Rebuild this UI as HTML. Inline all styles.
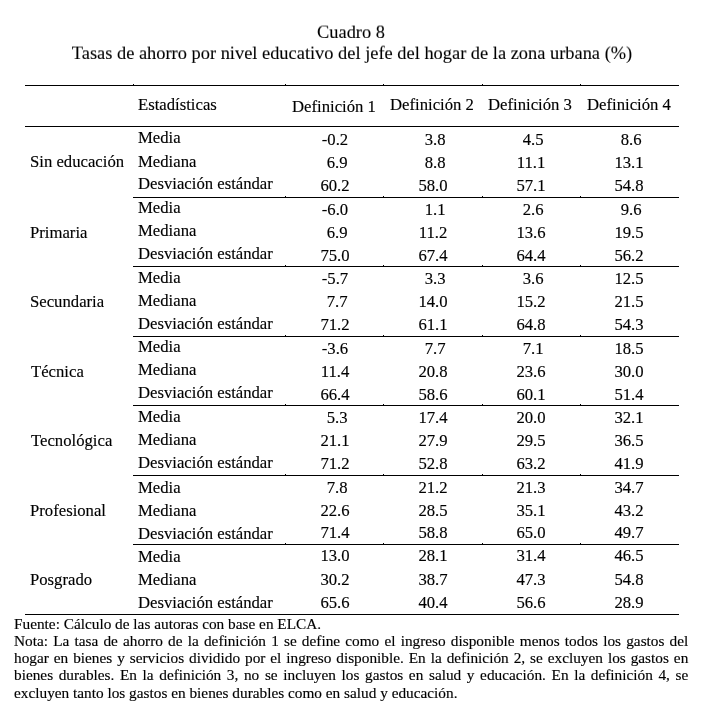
<!DOCTYPE html>
<html><head><meta charset="utf-8"><style>
html,body{margin:0;padding:0;background:#fff;}
body{width:710px;height:716px;position:relative;overflow:hidden;}
.t{position:absolute;will-change:transform;font-family:"Liberation Serif","Times New Roman",serif;color:#000;white-space:nowrap;}
.r{position:absolute;height:1px;background:#000;}
</style></head><body>
<div class="t" style="left:251.20px;width:200px;text-align:center;top:23px;font-size:18.4px;line-height:18.4px;transform:scaleY(0.96);transform-origin:0 15.41px;-webkit-text-stroke:0.1px #000;">Cuadro 8</div>
<div class="t" style="left:1.70px;width:700px;text-align:center;top:44px;font-size:18.4px;line-height:18.4px;transform:scaleY(0.96);transform-origin:0 15.41px;-webkit-text-stroke:0.1px #000;">Tasas de ahorro por nivel educativo del jefe del hogar de la zona urbana (%)</div>
<div class="r" style="left:25px;width:654px;top:85px"></div>
<div class="r" style="left:25px;width:654px;top:126px"></div>
<div class="r" style="left:133px;width:546px;top:197px"></div>
<div class="r" style="left:133px;width:546px;top:266px"></div>
<div class="r" style="left:133px;width:546px;top:336px"></div>
<div class="r" style="left:133px;width:546px;top:405px"></div>
<div class="r" style="left:133px;width:546px;top:475px"></div>
<div class="r" style="left:133px;width:546px;top:544px"></div>
<div class="r" style="left:25px;width:654px;top:614px"></div>
<div class="r" style="left:133px;width:1px;top:84px"></div>
<div class="r" style="left:285px;width:1px;top:84px"></div>
<div class="r" style="left:383px;width:1px;top:84px"></div>
<div class="r" style="left:482px;width:1px;top:84px"></div>
<div class="r" style="left:580px;width:1px;top:84px"></div>
<div class="r" style="left:285px;width:1px;top:196px"></div>
<div class="r" style="left:383px;width:1px;top:196px"></div>
<div class="r" style="left:482px;width:1px;top:196px"></div>
<div class="r" style="left:580px;width:1px;top:196px"></div>
<div class="r" style="left:285px;width:1px;top:265px"></div>
<div class="r" style="left:383px;width:1px;top:265px"></div>
<div class="r" style="left:482px;width:1px;top:265px"></div>
<div class="r" style="left:580px;width:1px;top:265px"></div>
<div class="r" style="left:285px;width:1px;top:335px"></div>
<div class="r" style="left:383px;width:1px;top:335px"></div>
<div class="r" style="left:482px;width:1px;top:335px"></div>
<div class="r" style="left:580px;width:1px;top:335px"></div>
<div class="r" style="left:285px;width:1px;top:404px"></div>
<div class="r" style="left:383px;width:1px;top:404px"></div>
<div class="r" style="left:482px;width:1px;top:404px"></div>
<div class="r" style="left:580px;width:1px;top:404px"></div>
<div class="r" style="left:285px;width:1px;top:474px"></div>
<div class="r" style="left:383px;width:1px;top:474px"></div>
<div class="r" style="left:482px;width:1px;top:474px"></div>
<div class="r" style="left:580px;width:1px;top:474px"></div>
<div class="r" style="left:285px;width:1px;top:543px"></div>
<div class="r" style="left:383px;width:1px;top:543px"></div>
<div class="r" style="left:482px;width:1px;top:543px"></div>
<div class="r" style="left:580px;width:1px;top:543px"></div>
<div class="t" style="left:138.20px;top:97px;font-size:16.7px;line-height:16.7px;-webkit-text-stroke:0.15px #000;">Estadísticas</div>
<div class="t" style="left:284.90px;width:98px;text-align:center;top:99px;font-size:16.7px;line-height:16.7px;-webkit-text-stroke:0.15px #000;">Definición 1</div>
<div class="t" style="left:383.10px;width:98px;text-align:center;top:97px;font-size:16.7px;line-height:16.7px;-webkit-text-stroke:0.15px #000;">Definición 2</div>
<div class="t" style="left:481.30px;width:98px;text-align:center;top:97px;font-size:16.7px;line-height:16.7px;-webkit-text-stroke:0.15px #000;">Definición 3</div>
<div class="t" style="left:579.60px;width:98px;text-align:center;top:97px;font-size:16.7px;line-height:16.7px;-webkit-text-stroke:0.15px #000;">Definición 4</div>
<div class="t" style="left:30.30px;top:154px;font-size:16.7px;line-height:16.7px;-webkit-text-stroke:0.15px #000;">Sin educación</div>
<div class="t" style="left:138.20px;top:130px;font-size:16.7px;line-height:16.7px;-webkit-text-stroke:0.15px #000;">Media</div>
<div class="t" style="left:285.50px;width:98px;text-align:center;top:132px;font-size:16.7px;line-height:16.7px;white-space:pre;-webkit-text-stroke:0.15px #000;">-0.2</div>
<div class="t" style="left:383.70px;width:98px;text-align:center;top:132px;font-size:16.7px;line-height:16.7px;white-space:pre;-webkit-text-stroke:0.15px #000;"> 3.8</div>
<div class="t" style="left:481.90px;width:98px;text-align:center;top:132px;font-size:16.7px;line-height:16.7px;white-space:pre;-webkit-text-stroke:0.15px #000;"> 4.5</div>
<div class="t" style="left:580.20px;width:98px;text-align:center;top:132px;font-size:16.7px;line-height:16.7px;white-space:pre;-webkit-text-stroke:0.15px #000;"> 8.6</div>
<div class="t" style="left:138.20px;top:154px;font-size:16.7px;line-height:16.7px;-webkit-text-stroke:0.15px #000;">Mediana</div>
<div class="t" style="left:285.50px;width:98px;text-align:center;top:155px;font-size:16.7px;line-height:16.7px;white-space:pre;-webkit-text-stroke:0.15px #000;"> 6.9</div>
<div class="t" style="left:383.70px;width:98px;text-align:center;top:155px;font-size:16.7px;line-height:16.7px;white-space:pre;-webkit-text-stroke:0.15px #000;"> 8.8</div>
<div class="t" style="left:481.90px;width:98px;text-align:center;top:155px;font-size:16.7px;line-height:16.7px;white-space:pre;-webkit-text-stroke:0.15px #000;">11.1</div>
<div class="t" style="left:580.20px;width:98px;text-align:center;top:155px;font-size:16.7px;line-height:16.7px;white-space:pre;-webkit-text-stroke:0.15px #000;">13.1</div>
<div class="t" style="left:138.20px;top:176px;font-size:16.7px;line-height:16.7px;-webkit-text-stroke:0.15px #000;">Desviación estándar</div>
<div class="t" style="left:285.50px;width:98px;text-align:center;top:178px;font-size:16.7px;line-height:16.7px;white-space:pre;-webkit-text-stroke:0.15px #000;">60.2</div>
<div class="t" style="left:383.70px;width:98px;text-align:center;top:178px;font-size:16.7px;line-height:16.7px;white-space:pre;-webkit-text-stroke:0.15px #000;">58.0</div>
<div class="t" style="left:481.90px;width:98px;text-align:center;top:178px;font-size:16.7px;line-height:16.7px;white-space:pre;-webkit-text-stroke:0.15px #000;">57.1</div>
<div class="t" style="left:580.20px;width:98px;text-align:center;top:178px;font-size:16.7px;line-height:16.7px;white-space:pre;-webkit-text-stroke:0.15px #000;">54.8</div>
<div class="t" style="left:30.30px;top:225px;font-size:16.7px;line-height:16.7px;-webkit-text-stroke:0.15px #000;">Primaria</div>
<div class="t" style="left:138.20px;top:200px;font-size:16.7px;line-height:16.7px;-webkit-text-stroke:0.15px #000;">Media</div>
<div class="t" style="left:285.50px;width:98px;text-align:center;top:202px;font-size:16.7px;line-height:16.7px;white-space:pre;-webkit-text-stroke:0.15px #000;">-6.0</div>
<div class="t" style="left:383.70px;width:98px;text-align:center;top:202px;font-size:16.7px;line-height:16.7px;white-space:pre;-webkit-text-stroke:0.15px #000;"> 1.1</div>
<div class="t" style="left:481.90px;width:98px;text-align:center;top:202px;font-size:16.7px;line-height:16.7px;white-space:pre;-webkit-text-stroke:0.15px #000;"> 2.6</div>
<div class="t" style="left:580.20px;width:98px;text-align:center;top:202px;font-size:16.7px;line-height:16.7px;white-space:pre;-webkit-text-stroke:0.15px #000;"> 9.6</div>
<div class="t" style="left:138.20px;top:223px;font-size:16.7px;line-height:16.7px;-webkit-text-stroke:0.15px #000;">Mediana</div>
<div class="t" style="left:285.50px;width:98px;text-align:center;top:225px;font-size:16.7px;line-height:16.7px;white-space:pre;-webkit-text-stroke:0.15px #000;"> 6.9</div>
<div class="t" style="left:383.70px;width:98px;text-align:center;top:225px;font-size:16.7px;line-height:16.7px;white-space:pre;-webkit-text-stroke:0.15px #000;">11.2</div>
<div class="t" style="left:481.90px;width:98px;text-align:center;top:225px;font-size:16.7px;line-height:16.7px;white-space:pre;-webkit-text-stroke:0.15px #000;">13.6</div>
<div class="t" style="left:580.20px;width:98px;text-align:center;top:225px;font-size:16.7px;line-height:16.7px;white-space:pre;-webkit-text-stroke:0.15px #000;">19.5</div>
<div class="t" style="left:138.20px;top:246px;font-size:16.7px;line-height:16.7px;-webkit-text-stroke:0.15px #000;">Desviación estándar</div>
<div class="t" style="left:285.50px;width:98px;text-align:center;top:248px;font-size:16.7px;line-height:16.7px;white-space:pre;-webkit-text-stroke:0.15px #000;">75.0</div>
<div class="t" style="left:383.70px;width:98px;text-align:center;top:248px;font-size:16.7px;line-height:16.7px;white-space:pre;-webkit-text-stroke:0.15px #000;">67.4</div>
<div class="t" style="left:481.90px;width:98px;text-align:center;top:248px;font-size:16.7px;line-height:16.7px;white-space:pre;-webkit-text-stroke:0.15px #000;">64.4</div>
<div class="t" style="left:580.20px;width:98px;text-align:center;top:248px;font-size:16.7px;line-height:16.7px;white-space:pre;-webkit-text-stroke:0.15px #000;">56.2</div>
<div class="t" style="left:30.30px;top:294px;font-size:16.7px;line-height:16.7px;-webkit-text-stroke:0.15px #000;">Secundaria</div>
<div class="t" style="left:138.20px;top:270px;font-size:16.7px;line-height:16.7px;-webkit-text-stroke:0.15px #000;">Media</div>
<div class="t" style="left:285.50px;width:98px;text-align:center;top:271px;font-size:16.7px;line-height:16.7px;white-space:pre;-webkit-text-stroke:0.15px #000;">-5.7</div>
<div class="t" style="left:383.70px;width:98px;text-align:center;top:271px;font-size:16.7px;line-height:16.7px;white-space:pre;-webkit-text-stroke:0.15px #000;"> 3.3</div>
<div class="t" style="left:481.90px;width:98px;text-align:center;top:271px;font-size:16.7px;line-height:16.7px;white-space:pre;-webkit-text-stroke:0.15px #000;"> 3.6</div>
<div class="t" style="left:580.20px;width:98px;text-align:center;top:271px;font-size:16.7px;line-height:16.7px;white-space:pre;-webkit-text-stroke:0.15px #000;">12.5</div>
<div class="t" style="left:138.20px;top:293px;font-size:16.7px;line-height:16.7px;-webkit-text-stroke:0.15px #000;">Mediana</div>
<div class="t" style="left:285.50px;width:98px;text-align:center;top:294px;font-size:16.7px;line-height:16.7px;white-space:pre;-webkit-text-stroke:0.15px #000;"> 7.7</div>
<div class="t" style="left:383.70px;width:98px;text-align:center;top:294px;font-size:16.7px;line-height:16.7px;white-space:pre;-webkit-text-stroke:0.15px #000;">14.0</div>
<div class="t" style="left:481.90px;width:98px;text-align:center;top:294px;font-size:16.7px;line-height:16.7px;white-space:pre;-webkit-text-stroke:0.15px #000;">15.2</div>
<div class="t" style="left:580.20px;width:98px;text-align:center;top:294px;font-size:16.7px;line-height:16.7px;white-space:pre;-webkit-text-stroke:0.15px #000;">21.5</div>
<div class="t" style="left:138.20px;top:316px;font-size:16.7px;line-height:16.7px;-webkit-text-stroke:0.15px #000;">Desviación estándar</div>
<div class="t" style="left:285.50px;width:98px;text-align:center;top:317px;font-size:16.7px;line-height:16.7px;white-space:pre;-webkit-text-stroke:0.15px #000;">71.2</div>
<div class="t" style="left:383.70px;width:98px;text-align:center;top:317px;font-size:16.7px;line-height:16.7px;white-space:pre;-webkit-text-stroke:0.15px #000;">61.1</div>
<div class="t" style="left:481.90px;width:98px;text-align:center;top:317px;font-size:16.7px;line-height:16.7px;white-space:pre;-webkit-text-stroke:0.15px #000;">64.8</div>
<div class="t" style="left:580.20px;width:98px;text-align:center;top:317px;font-size:16.7px;line-height:16.7px;white-space:pre;-webkit-text-stroke:0.15px #000;">54.3</div>
<div class="t" style="left:31.00px;top:364px;font-size:16.7px;line-height:16.7px;-webkit-text-stroke:0.15px #000;">Técnica</div>
<div class="t" style="left:138.20px;top:339px;font-size:16.7px;line-height:16.7px;-webkit-text-stroke:0.15px #000;">Media</div>
<div class="t" style="left:285.50px;width:98px;text-align:center;top:341px;font-size:16.7px;line-height:16.7px;white-space:pre;-webkit-text-stroke:0.15px #000;">-3.6</div>
<div class="t" style="left:383.70px;width:98px;text-align:center;top:341px;font-size:16.7px;line-height:16.7px;white-space:pre;-webkit-text-stroke:0.15px #000;"> 7.7</div>
<div class="t" style="left:481.90px;width:98px;text-align:center;top:341px;font-size:16.7px;line-height:16.7px;white-space:pre;-webkit-text-stroke:0.15px #000;"> 7.1</div>
<div class="t" style="left:580.20px;width:98px;text-align:center;top:341px;font-size:16.7px;line-height:16.7px;white-space:pre;-webkit-text-stroke:0.15px #000;">18.5</div>
<div class="t" style="left:138.20px;top:362px;font-size:16.7px;line-height:16.7px;-webkit-text-stroke:0.15px #000;">Mediana</div>
<div class="t" style="left:285.50px;width:98px;text-align:center;top:364px;font-size:16.7px;line-height:16.7px;white-space:pre;-webkit-text-stroke:0.15px #000;">11.4</div>
<div class="t" style="left:383.70px;width:98px;text-align:center;top:364px;font-size:16.7px;line-height:16.7px;white-space:pre;-webkit-text-stroke:0.15px #000;">20.8</div>
<div class="t" style="left:481.90px;width:98px;text-align:center;top:364px;font-size:16.7px;line-height:16.7px;white-space:pre;-webkit-text-stroke:0.15px #000;">23.6</div>
<div class="t" style="left:580.20px;width:98px;text-align:center;top:364px;font-size:16.7px;line-height:16.7px;white-space:pre;-webkit-text-stroke:0.15px #000;">30.0</div>
<div class="t" style="left:138.20px;top:385px;font-size:16.7px;line-height:16.7px;-webkit-text-stroke:0.15px #000;">Desviación estándar</div>
<div class="t" style="left:285.50px;width:98px;text-align:center;top:387px;font-size:16.7px;line-height:16.7px;white-space:pre;-webkit-text-stroke:0.15px #000;">66.4</div>
<div class="t" style="left:383.70px;width:98px;text-align:center;top:387px;font-size:16.7px;line-height:16.7px;white-space:pre;-webkit-text-stroke:0.15px #000;">58.6</div>
<div class="t" style="left:481.90px;width:98px;text-align:center;top:387px;font-size:16.7px;line-height:16.7px;white-space:pre;-webkit-text-stroke:0.15px #000;">60.1</div>
<div class="t" style="left:580.20px;width:98px;text-align:center;top:387px;font-size:16.7px;line-height:16.7px;white-space:pre;-webkit-text-stroke:0.15px #000;">51.4</div>
<div class="t" style="left:31.00px;top:433px;font-size:16.7px;line-height:16.7px;-webkit-text-stroke:0.15px #000;">Tecnológica</div>
<div class="t" style="left:138.20px;top:409px;font-size:16.7px;line-height:16.7px;-webkit-text-stroke:0.15px #000;">Media</div>
<div class="t" style="left:285.50px;width:98px;text-align:center;top:410px;font-size:16.7px;line-height:16.7px;white-space:pre;-webkit-text-stroke:0.15px #000;"> 5.3</div>
<div class="t" style="left:383.70px;width:98px;text-align:center;top:410px;font-size:16.7px;line-height:16.7px;white-space:pre;-webkit-text-stroke:0.15px #000;">17.4</div>
<div class="t" style="left:481.90px;width:98px;text-align:center;top:410px;font-size:16.7px;line-height:16.7px;white-space:pre;-webkit-text-stroke:0.15px #000;">20.0</div>
<div class="t" style="left:580.20px;width:98px;text-align:center;top:410px;font-size:16.7px;line-height:16.7px;white-space:pre;-webkit-text-stroke:0.15px #000;">32.1</div>
<div class="t" style="left:138.20px;top:432px;font-size:16.7px;line-height:16.7px;-webkit-text-stroke:0.15px #000;">Mediana</div>
<div class="t" style="left:285.50px;width:98px;text-align:center;top:433px;font-size:16.7px;line-height:16.7px;white-space:pre;-webkit-text-stroke:0.15px #000;">21.1</div>
<div class="t" style="left:383.70px;width:98px;text-align:center;top:433px;font-size:16.7px;line-height:16.7px;white-space:pre;-webkit-text-stroke:0.15px #000;">27.9</div>
<div class="t" style="left:481.90px;width:98px;text-align:center;top:433px;font-size:16.7px;line-height:16.7px;white-space:pre;-webkit-text-stroke:0.15px #000;">29.5</div>
<div class="t" style="left:580.20px;width:98px;text-align:center;top:433px;font-size:16.7px;line-height:16.7px;white-space:pre;-webkit-text-stroke:0.15px #000;">36.5</div>
<div class="t" style="left:138.20px;top:455px;font-size:16.7px;line-height:16.7px;-webkit-text-stroke:0.15px #000;">Desviación estándar</div>
<div class="t" style="left:285.50px;width:98px;text-align:center;top:456px;font-size:16.7px;line-height:16.7px;white-space:pre;-webkit-text-stroke:0.15px #000;">71.2</div>
<div class="t" style="left:383.70px;width:98px;text-align:center;top:456px;font-size:16.7px;line-height:16.7px;white-space:pre;-webkit-text-stroke:0.15px #000;">52.8</div>
<div class="t" style="left:481.90px;width:98px;text-align:center;top:456px;font-size:16.7px;line-height:16.7px;white-space:pre;-webkit-text-stroke:0.15px #000;">63.2</div>
<div class="t" style="left:580.20px;width:98px;text-align:center;top:456px;font-size:16.7px;line-height:16.7px;white-space:pre;-webkit-text-stroke:0.15px #000;">41.9</div>
<div class="t" style="left:30.30px;top:503px;font-size:16.7px;line-height:16.7px;-webkit-text-stroke:0.15px #000;">Profesional</div>
<div class="t" style="left:138.20px;top:480px;font-size:16.7px;line-height:16.7px;-webkit-text-stroke:0.15px #000;">Media</div>
<div class="t" style="left:285.50px;width:98px;text-align:center;top:480px;font-size:16.7px;line-height:16.7px;white-space:pre;-webkit-text-stroke:0.15px #000;"> 7.8</div>
<div class="t" style="left:383.70px;width:98px;text-align:center;top:480px;font-size:16.7px;line-height:16.7px;white-space:pre;-webkit-text-stroke:0.15px #000;">21.2</div>
<div class="t" style="left:481.90px;width:98px;text-align:center;top:480px;font-size:16.7px;line-height:16.7px;white-space:pre;-webkit-text-stroke:0.15px #000;">21.3</div>
<div class="t" style="left:580.20px;width:98px;text-align:center;top:480px;font-size:16.7px;line-height:16.7px;white-space:pre;-webkit-text-stroke:0.15px #000;">34.7</div>
<div class="t" style="left:138.20px;top:503px;font-size:16.7px;line-height:16.7px;-webkit-text-stroke:0.15px #000;">Mediana</div>
<div class="t" style="left:285.50px;width:98px;text-align:center;top:503px;font-size:16.7px;line-height:16.7px;white-space:pre;-webkit-text-stroke:0.15px #000;">22.6</div>
<div class="t" style="left:383.70px;width:98px;text-align:center;top:503px;font-size:16.7px;line-height:16.7px;white-space:pre;-webkit-text-stroke:0.15px #000;">28.5</div>
<div class="t" style="left:481.90px;width:98px;text-align:center;top:503px;font-size:16.7px;line-height:16.7px;white-space:pre;-webkit-text-stroke:0.15px #000;">35.1</div>
<div class="t" style="left:580.20px;width:98px;text-align:center;top:503px;font-size:16.7px;line-height:16.7px;white-space:pre;-webkit-text-stroke:0.15px #000;">43.2</div>
<div class="t" style="left:138.20px;top:526px;font-size:16.7px;line-height:16.7px;-webkit-text-stroke:0.15px #000;">Desviación estándar</div>
<div class="t" style="left:285.50px;width:98px;text-align:center;top:525px;font-size:16.7px;line-height:16.7px;white-space:pre;-webkit-text-stroke:0.15px #000;">71.4</div>
<div class="t" style="left:383.70px;width:98px;text-align:center;top:525px;font-size:16.7px;line-height:16.7px;white-space:pre;-webkit-text-stroke:0.15px #000;">58.8</div>
<div class="t" style="left:481.90px;width:98px;text-align:center;top:525px;font-size:16.7px;line-height:16.7px;white-space:pre;-webkit-text-stroke:0.15px #000;">65.0</div>
<div class="t" style="left:580.20px;width:98px;text-align:center;top:525px;font-size:16.7px;line-height:16.7px;white-space:pre;-webkit-text-stroke:0.15px #000;">49.7</div>
<div class="t" style="left:30.30px;top:572px;font-size:16.7px;line-height:16.7px;-webkit-text-stroke:0.15px #000;">Posgrado</div>
<div class="t" style="left:138.20px;top:549px;font-size:16.7px;line-height:16.7px;-webkit-text-stroke:0.15px #000;">Media</div>
<div class="t" style="left:285.50px;width:98px;text-align:center;top:548px;font-size:16.7px;line-height:16.7px;white-space:pre;-webkit-text-stroke:0.15px #000;">13.0</div>
<div class="t" style="left:383.70px;width:98px;text-align:center;top:548px;font-size:16.7px;line-height:16.7px;white-space:pre;-webkit-text-stroke:0.15px #000;">28.1</div>
<div class="t" style="left:481.90px;width:98px;text-align:center;top:548px;font-size:16.7px;line-height:16.7px;white-space:pre;-webkit-text-stroke:0.15px #000;">31.4</div>
<div class="t" style="left:580.20px;width:98px;text-align:center;top:548px;font-size:16.7px;line-height:16.7px;white-space:pre;-webkit-text-stroke:0.15px #000;">46.5</div>
<div class="t" style="left:138.20px;top:572px;font-size:16.7px;line-height:16.7px;-webkit-text-stroke:0.15px #000;">Mediana</div>
<div class="t" style="left:285.50px;width:98px;text-align:center;top:572px;font-size:16.7px;line-height:16.7px;white-space:pre;-webkit-text-stroke:0.15px #000;">30.2</div>
<div class="t" style="left:383.70px;width:98px;text-align:center;top:572px;font-size:16.7px;line-height:16.7px;white-space:pre;-webkit-text-stroke:0.15px #000;">38.7</div>
<div class="t" style="left:481.90px;width:98px;text-align:center;top:572px;font-size:16.7px;line-height:16.7px;white-space:pre;-webkit-text-stroke:0.15px #000;">47.3</div>
<div class="t" style="left:580.20px;width:98px;text-align:center;top:572px;font-size:16.7px;line-height:16.7px;white-space:pre;-webkit-text-stroke:0.15px #000;">54.8</div>
<div class="t" style="left:138.20px;top:595px;font-size:16.7px;line-height:16.7px;-webkit-text-stroke:0.15px #000;">Desviación estándar</div>
<div class="t" style="left:285.50px;width:98px;text-align:center;top:595px;font-size:16.7px;line-height:16.7px;white-space:pre;-webkit-text-stroke:0.15px #000;">65.6</div>
<div class="t" style="left:383.70px;width:98px;text-align:center;top:595px;font-size:16.7px;line-height:16.7px;white-space:pre;-webkit-text-stroke:0.15px #000;">40.4</div>
<div class="t" style="left:481.90px;width:98px;text-align:center;top:595px;font-size:16.7px;line-height:16.7px;white-space:pre;-webkit-text-stroke:0.15px #000;">56.6</div>
<div class="t" style="left:580.20px;width:98px;text-align:center;top:595px;font-size:16.7px;line-height:16.7px;white-space:pre;-webkit-text-stroke:0.15px #000;">28.9</div>
<div class="t" style="left:14.00px;top:616px;font-size:15.3px;line-height:15.3px;-webkit-text-stroke:0.15px #000;">Fuente: Cálculo de las autoras con base en ELCA.</div>
<div class="t" style="left:14.00px;top:633px;font-size:15.3px;line-height:15.3px;width:674.3px;text-align:justify;text-align-last:justify;white-space:normal;-webkit-text-stroke:0.15px #000;">Nota: La tasa de ahorro de la definición 1 se define como el ingreso disponible menos todos los gastos del</div>
<div class="t" style="left:14.00px;top:650px;font-size:15.3px;line-height:15.3px;width:674.3px;text-align:justify;text-align-last:justify;white-space:normal;-webkit-text-stroke:0.15px #000;">hogar en bienes y servicios dividido por el ingreso disponible. En la definición 2, se excluyen los gastos en</div>
<div class="t" style="left:14.00px;top:667px;font-size:15.3px;line-height:15.3px;width:674.3px;text-align:justify;text-align-last:justify;white-space:normal;-webkit-text-stroke:0.15px #000;">bienes durables. En la definición 3, no se incluyen los gastos en salud y educación. En la definición 4, se</div>
<div class="t" style="left:14.00px;top:685px;font-size:15.3px;line-height:15.3px;-webkit-text-stroke:0.15px #000;">excluyen tanto los gastos en bienes durables como en salud y educación.</div>
</body></html>
